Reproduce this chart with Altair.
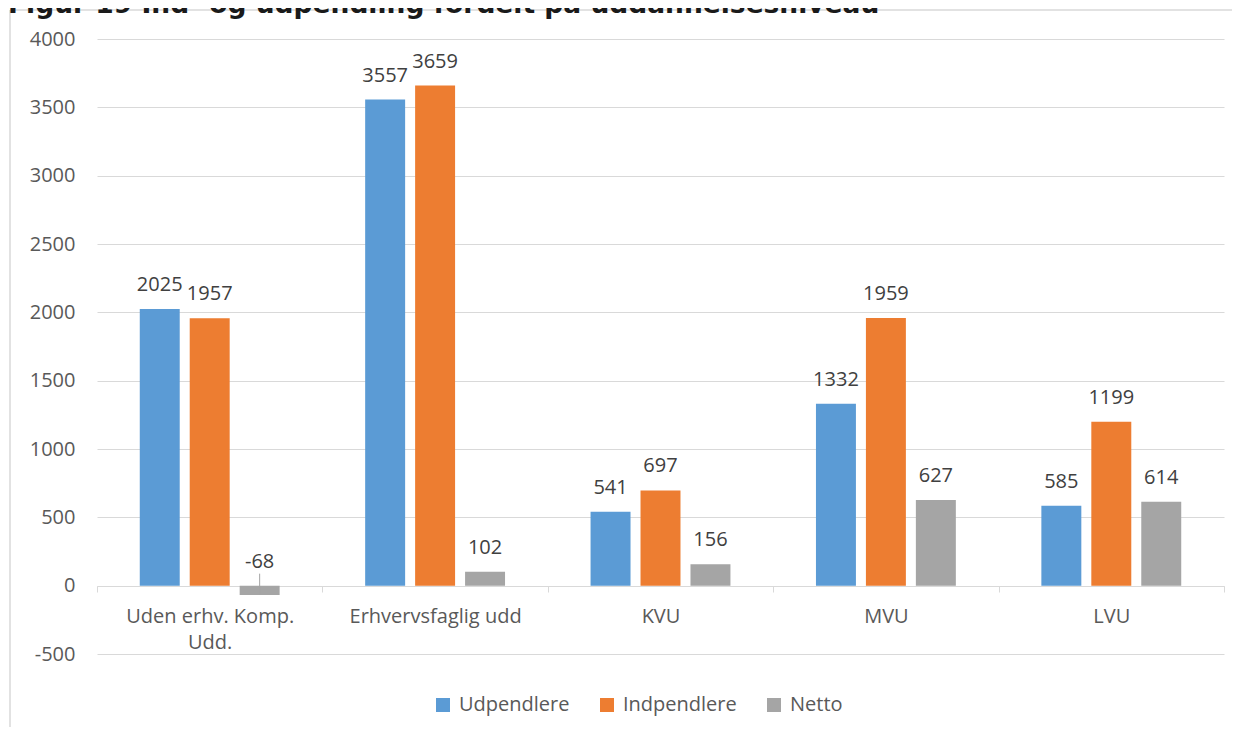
import altair as alt
import pandas as pd

title_text = "Figur 19 Ind- og udpendling fordelt på uddannelsesniveau"
categories = ["Uden erhv. Komp. Udd.", "Erhvervsfaglig udd", "KVU", "MVU", "LVU"]
series = ["Udpendlere", "Indpendlere", "Netto"]
udpendlere = [2025, 3557, 541, 1332, 585]
indpendlere = [1957, 3659, 697, 1959, 1199]
netto = [-68, 102, 156, 627, 614]
colors = ["#5b9bd5", "#ed7d31", "#a5a5a5"]
y_ticks = [-500, 0, 500, 1000, 1500, 2000, 2500, 3000, 3500, 4000]

rows = []
for s, vals in zip(series, [udpendlere, indpendlere, netto]):
    for c, v in zip(categories, vals):
        rows.append({"Kategori": c, "Serie": s, "Value": v,
                     "LabelY": max(v, 0), "Label": str(v)})
df = pd.DataFrame(rows)

FONT = "Open Sans"
AX = "#595959"
GRID = "#d9d9d9"

x_enc = alt.X("Kategori:N", sort=categories,
              scale=alt.Scale(paddingInner=0, paddingOuter=0),
              axis=alt.Axis(title=None, labelAngle=0, offset=-68, tickBand="extent",
                            domainColor=GRID, tickColor=GRID, tickSize=6,
                            labelFont=FONT, labelFontSize=20, labelColor=AX,
                            labelPadding=14, labelLimit=400,
                            labelExpr="datum.value == 'Uden erhv. Komp. Udd.' ? ['Uden erhv. Komp.', 'Udd.'] : datum.value",
                            labelLineHeight=26))
xo_enc = alt.XOffset("Serie:N", sort=series,
                     scale=alt.Scale(paddingInner=0.2, paddingOuter=0.856))
y_scale = alt.Scale(domain=[-500, 4000], nice=False, zero=False)

base = alt.Chart(df)

bars = base.mark_bar().encode(
    x=x_enc,
    xOffset=xo_enc,
    y=alt.Y("Value:Q", scale=y_scale,
            axis=alt.Axis(title=None, values=y_ticks, grid=True, gridColor=GRID,
                          domain=False, ticks=False, labelFont=FONT, labelFontSize=20,
                          labelColor=AX, labelPadding=22,
                          labelExpr="'' + datum.value")),
    color=alt.Color("Serie:N", sort=series,
                    scale=alt.Scale(domain=series, range=colors),
                    legend=alt.Legend(title=None, orient="none", direction="horizontal",
                                      legendX=336, legendY=656, symbolType="square",
                                      symbolSize=196, symbolStrokeWidth=0,
                                      labelFont=FONT, labelFontSize=20, labelColor=AX,
                                      labelOffset=6, columnPadding=27)),
)

labels = base.mark_text(font=FONT, fontSize=20, color="#404040", dy=-18,
                        baseline="alphabetic").encode(
    x=alt.X("Kategori:N", sort=categories),
    xOffset=alt.XOffset("Serie:N", sort=series),
    y=alt.Y("LabelY:Q", scale=y_scale),
    text=alt.Text("Label:N"),
)

leader = base.transform_filter("datum.Value < 0").mark_rule(
    color="#a5a5a5", strokeWidth=1, y2Offset=-12, xOffset=-1, x2Offset=-3).encode(
    x=alt.X("Kategori:N", sort=categories),
    xOffset=alt.XOffset("Serie:N", sort=series),
    y=alt.Y("Value:Q", scale=y_scale),
    y2=alt.datum(0),
)

frame_top = alt.Chart(pd.DataFrame({"a": [0]})).mark_rule(color=GRID, strokeWidth=1.5).encode(
    x=alt.value(-87), x2=alt.value(1140), y=alt.value(-29))
frame_left = alt.Chart(pd.DataFrame({"a": [0]})).mark_rule(color=GRID, strokeWidth=1.5).encode(
    x=alt.value(-87), y=alt.value(-29), y2=alt.value(720))

title = alt.Chart(pd.DataFrame({"t": [title_text]})).mark_text(
    font="DejaVu Sans", fontWeight="bold", fontSize=26.5, color="#1a1a1a",
    align="left", baseline="alphabetic").encode(
    text="t:N", x=alt.value(-89), y=alt.value(-26))

chart = alt.layer(frame_top, frame_left, title, bars, leader, labels).properties(
    width=1127, height=615,
    padding={"left": 89, "top": 31, "right": 8, "bottom": 73},
    autosize=alt.AutoSizeParams(type="none"),
).configure_view(stroke=None)

chart.save("out.html", embed_options={"renderer": "svg", "actions": False})
